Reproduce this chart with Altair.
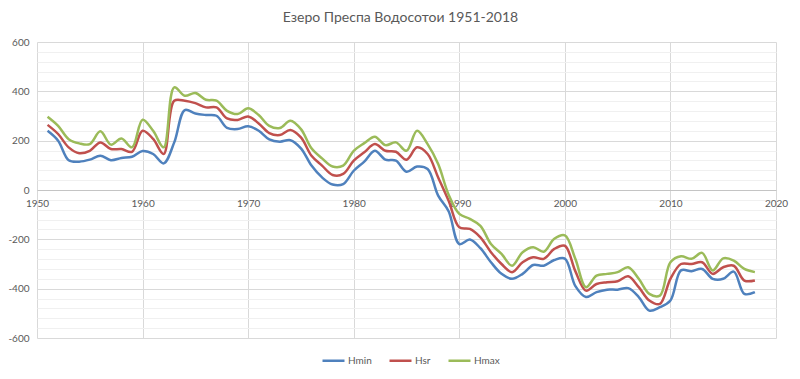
import altair as alt
import pandas as pd

years = list(range(1951, 2019))

hmin = [240, 200, 121, 115, 123, 139, 121, 130, 135, 158,
        146, 108, 193, 324, 310, 304, 301, 252, 247, 258,
        240, 205, 196, 202, 169, 99, 51, 22, 24, 78,
        115, 159, 123, 119, 74, 95, 85, -23, -87, -219,
        -201, -236, -293, -340, -360, -340, -304, -307, -284, -278,
        -390, -434, -414, -404, -404, -398, -434, -489, -475, -448,
        -326, -329, -320, -360, -360, -331, -421, -414]

hsr = [264, 227, 173, 149, 159, 193, 166, 166, 155, 240,
       207, 146, 362, 362, 352, 335, 335, 290, 284, 298,
       270, 231, 223, 243, 213, 139, 99, 61, 65, 119,
       153, 186, 159, 155, 123, 173, 146, 51, -45, -151,
       -158, -192, -252, -300, -333, -293, -273, -279, -239, -226,
       -330, -408, -381, -374, -370, -350, -394, -448, -462, -360,
       -300, -300, -293, -340, -313, -307, -367, -367]

hmax = [297, 260, 206, 189, 186, 238, 184, 209, 173, 285,
        240, 173, 416, 382, 393, 366, 362, 321, 308, 331,
        304, 260, 251, 281, 247, 169, 128, 95, 99, 159,
        190, 216, 182, 193, 159, 240, 186, 105, -20, -97,
        -117, -145, -219, -259, -307, -252, -232, -250, -198, -184,
        -280, -394, -347, -340, -333, -313, -360, -421, -428, -293,
        -269, -279, -255, -326, -277, -286, -320, -333]

series_names = ["Hmin", "Hsr", "Hmax"]
series_colors = ["#4F81BD", "#C0504D", "#9BBB59"]
x_ticks = list(range(1950, 2021, 10))
y_ticks = list(range(-600, 601, 40))

df = pd.DataFrame({"Year": years, "Hmin": hmin, "Hsr": hsr, "Hmax": hmax})
long = df.melt(id_vars="Year", var_name="Series", value_name="Value")

FONT = "Lato"
W, H = 739, 296

chart = alt.Chart(long).mark_line(
    interpolate="catmull-rom", strokeWidth=2.5
).encode(
    x=alt.X("Year:Q",
            scale=alt.Scale(domain=[1950, 2020], nice=False, zero=False),
            axis=alt.Axis(values=x_ticks, format="d", title=None,
                          grid=True, gridColor="#d9d9d9", gridWidth=1,
                          ticks=False, domain=True, domainColor="#c4c4c4",
                          domainWidth=1, labelFlush=False,
                          offset=-H / 2, labelPadding=8,
                          labelFont=FONT, labelFontSize=10,
                          labelColor="#595959")),
    y=alt.Y("Value:Q",
            scale=alt.Scale(domain=[-600, 600], nice=False),
            axis=alt.Axis(values=y_ticks, title=None,
                          grid=True,
                          gridColor={"condition": {"test": "datum.value % 200 === 0",
                                                   "value": "#d9d9d9"},
                                     "value": "#f0f0f0"},
                          ticks=False, domain=False,
                          labelExpr="datum.value % 200 === 0 ? '' + datum.value : ''",
                          labelPadding=8,
                          labelFont=FONT, labelFontSize=10,
                          labelColor="#595959")),
    color=alt.Color("Series:N",
                    scale=alt.Scale(domain=series_names, range=series_colors),
                    sort=series_names,
                    legend=alt.Legend(title=None, orient="none",
                                      direction="horizontal",
                                      legendX=284, legendY=306,
                                      symbolType="stroke", symbolSize=484,
                                      symbolStrokeWidth=2.5,
                                      labelFont=FONT, labelFontSize=10,
                                      labelColor="#595959",
                                      columnPadding=12, labelOffset=2)),
).properties(
    width=W,
    height=H,
    title=alt.TitleParams("Езеро Преспа Водосотои 1951-2018",
                          anchor="middle", font=FONT, fontSize=14,
                          fontWeight="normal", color="#595959",
                          offset=12, dx=-6),
    autosize=alt.AutoSizeParams(type="none"),
    padding={"left": 29, "top": 34, "right": 16, "bottom": 40},
).configure_view(stroke=None)

chart.save("out.html", embed_options={"renderer": "svg", "actions": False})
